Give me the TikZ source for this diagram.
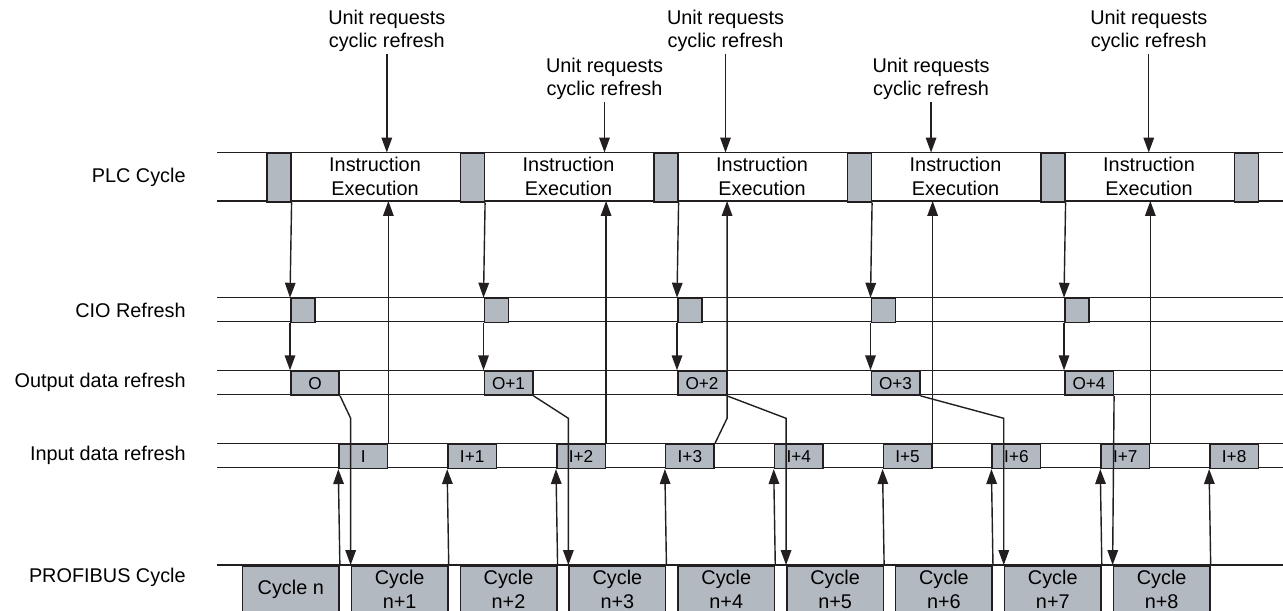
\documentclass[tikz,border=0pt]{standalone}
\usepackage{fontspec}
\setmainfont{Liberation Sans}
\usetikzlibrary{arrows.meta}
\definecolor{slotgray}{RGB}{179,185,193}
\definecolor{ink}{RGB}{35,31,32}

\begin{document}
\begin{tikzpicture}[
  x=0.02cm, y=-0.02cm,
  font=\fontsize{11.3}{13.5}\selectfont,
  rail/.style={draw=ink, line width=0.75pt},
  slot/.style={draw=ink, fill=slotgray, line width=0.9pt, anchor=north west, inner sep=0pt},
  plcslot/.style={slot, minimum width=0.48cm, minimum height=0.97cm},
  cioslot/.style={slot, minimum width=0.48cm, minimum height=0.48cm},
  ioslot/.style={slot, minimum width=0.97cm, minimum height=0.48cm, font=\fontsize{9.8}{11}\selectfont},
  busslot/.style={slot, minimum width=1.93cm, minimum height=0.94cm, align=center},
  arr/.style={-{Triangle[length=8.5pt,width=6pt]}, draw=ink, line width=0.8pt},
  req/.style={align=center, inner sep=1pt, anchor=south},
  row/.style={anchor=east, inner sep=0pt}
]
\useasboundingbox (0,0) rectangle (1283,610);

\coordinate (plct) at (0,152.5);
\coordinate (plcb) at (0,201);
\coordinate (jog)  at (0,418.3);

\node[row] (lplc) at (186,177)   {PLC Cycle};
\node[row] (lcio) at (186,310)   {CIO Refresh};
\node[row] (lout) at (186,382.5) {Output data refresh};
\node[row] (lin)  at (186,455.5) {Input data refresh};
\node[row] (lbus) at (186,577)   {PROFIBUS Cycle};

\draw[rail] (217,152.5) -- (1283,152.5);
\draw[rail] (217,201)   -- (1283,201);
\draw[rail] (217,297.7) -- (1283,297.7);
\draw[rail] (217,321.7) -- (1283,321.7);
\draw[rail] (217,370.3) -- (1283,370.3);
\draw[rail] (217,394.5) -- (1283,394.5);
\draw[rail] (217,443.5) -- (1283,443.5);
\draw[rail] (217,467.7) -- (1283,467.7);
\draw[rail] (217,565)   -- (1283,565);

\node[plcslot] (p1) at (266,152.5)    {};
\node[plcslot] (p2) at (459.5,152.5)  {};
\node[plcslot] (p3) at (653,152.5)    {};
\node[plcslot] (p4) at (846.5,152.5)  {};
\node[plcslot] (p5) at (1040,152.5)   {};
\node[plcslot] (p6) at (1233.5,152.5) {};

\node[align=center] (ie1) at (375,176.75)    {Instruction\\Execution};
\node[align=center] (ie2) at (568.5,176.75)  {Instruction\\Execution};
\node[align=center] (ie3) at (762,176.75)    {Instruction\\Execution};
\node[align=center] (ie4) at (955.5,176.75)  {Instruction\\Execution};
\node[align=center] (ie5) at (1149,176.75)   {Instruction\\Execution};

\node[cioslot] (k1) at (290,297.7)   {};
\node[cioslot] (k2) at (483.5,297.7) {};
\node[cioslot] (k3) at (677,297.7)   {};
\node[cioslot] (k4) at (870.5,297.7) {};
\node[cioslot] (k5) at (1064,297.7)  {};

\node[ioslot] (o1) at (290,370.3)   {O};
\node[ioslot] (o2) at (483.5,370.3) {O+1};
\node[ioslot] (o3) at (677,370.3)   {O+2};
\node[ioslot] (o4) at (870.5,370.3) {O+3};
\node[ioslot] (o5) at (1064,370.3)  {O+4};

\node[ioslot] (i1) at (338.3,443.5)   {I};
\node[ioslot] (i2) at (447.15,443.5)  {I+1};
\node[ioslot] (i3) at (556,443.5)     {I+2};
\node[ioslot] (i4) at (664.85,443.5)  {I+3};
\node[ioslot] (i5) at (773.7,443.5)   {I+4};
\node[ioslot] (i6) at (882.55,443.5)  {I+5};
\node[ioslot] (i7) at (991.4,443.5)   {I+6};
\node[ioslot] (i8) at (1100.25,443.5) {I+7};
\node[ioslot] (i9) at (1209.1,443.5)  {I+8};

\node[busslot] (c1) at (241.8,565)   {Cycle n};
\node[busslot] (c2) at (350.65,565)  {Cycle\\n+1};
\node[busslot] (c3) at (459.5,565)   {Cycle\\n+2};
\node[busslot] (c4) at (568.35,565)  {Cycle\\n+3};
\node[busslot] (c5) at (677.2,565)   {Cycle\\n+4};
\node[busslot] (c6) at (786.05,565)  {Cycle\\n+5};
\node[busslot] (c7) at (894.9,565)   {Cycle\\n+6};
\node[busslot] (c8) at (1003.75,565) {Cycle\\n+7};
\node[busslot] (c9) at (1112.6,565)  {Cycle\\n+8};

\node[req] (u1) at (386.8,54)   {Unit requests\\cyclic refresh};
\node[req] (u2) at (604.5,102)  {Unit requests\\cyclic refresh};
\node[req] (u3) at (725.5,54)   {Unit requests\\cyclic refresh};
\node[req] (u4) at (931.05,102) {Unit requests\\cyclic refresh};
\node[req] (u5) at (1148.75,54) {Unit requests\\cyclic refresh};

\draw[arr] (u1.south) -- (u1.south |- plct);
\draw[arr] (u2.south) -- (u2.south |- plct);
\draw[arr] (u3.south) -- (u3.south |- plct);
\draw[arr] (u4.south) -- (u4.south |- plct);
\draw[arr] (u5.south) -- (u5.south |- plct);

\draw[arr] (p1.south east) -- (k1.north west);
\draw[arr] (p2.south east) -- (k2.north west);
\draw[arr] (p3.south east) -- (k3.north west);
\draw[arr] (p4.south east) -- (k4.north west);
\draw[arr] (p5.south east) -- (k5.north west);

\draw[arr] (k1.south west) -- (o1.north west);
\draw[arr] (k2.south west) -- (o2.north west);
\draw[arr] (k3.south west) -- (o3.north west);
\draw[arr] (k4.south west) -- (o4.north west);
\draw[arr] (k5.south west) -- (o5.north west);

\draw[arr] (o1.south east) -- (jog -| c2.north west) -- (c2.north west);
\draw[arr] (o2.south east) -- (jog -| c4.north west) -- (c4.north west);
\draw[arr] (o3.south east) -- (jog -| c6.north west) -- (c6.north west);
\draw[arr] (o4.south east) -- (jog -| c8.north west) -- (c8.north west);
\draw[arr] (o5.south east) -- (c9.north west);

\draw[arr] (c1.north east) -- (i1.south west);
\draw[arr] (c2.north east) -- (i2.south west);
\draw[arr] (c3.north east) -- (i3.south west);
\draw[arr] (c4.north east) -- (i4.south west);
\draw[arr] (c5.north east) -- (i5.south west);
\draw[arr] (c6.north east) -- (i6.south west);
\draw[arr] (c7.north east) -- (i7.south west);
\draw[arr] (c8.north east) -- (i8.south west);
\draw[arr] (c9.north east) -- (i9.south west);

\draw[arr] (i1.north east) -- (i1.north east |- plcb);
\draw[arr] (i3.north east) -- (i3.north east |- plcb);
\draw[arr] (i4.north east) -- (jog -| o3.south east) -- (o3.south east |- plcb);
\draw[arr] (i6.north east) -- (i6.north east |- plcb);
\draw[arr] (i8.north east) -- (i8.north east |- plcb);
\end{tikzpicture}
\end{document}
